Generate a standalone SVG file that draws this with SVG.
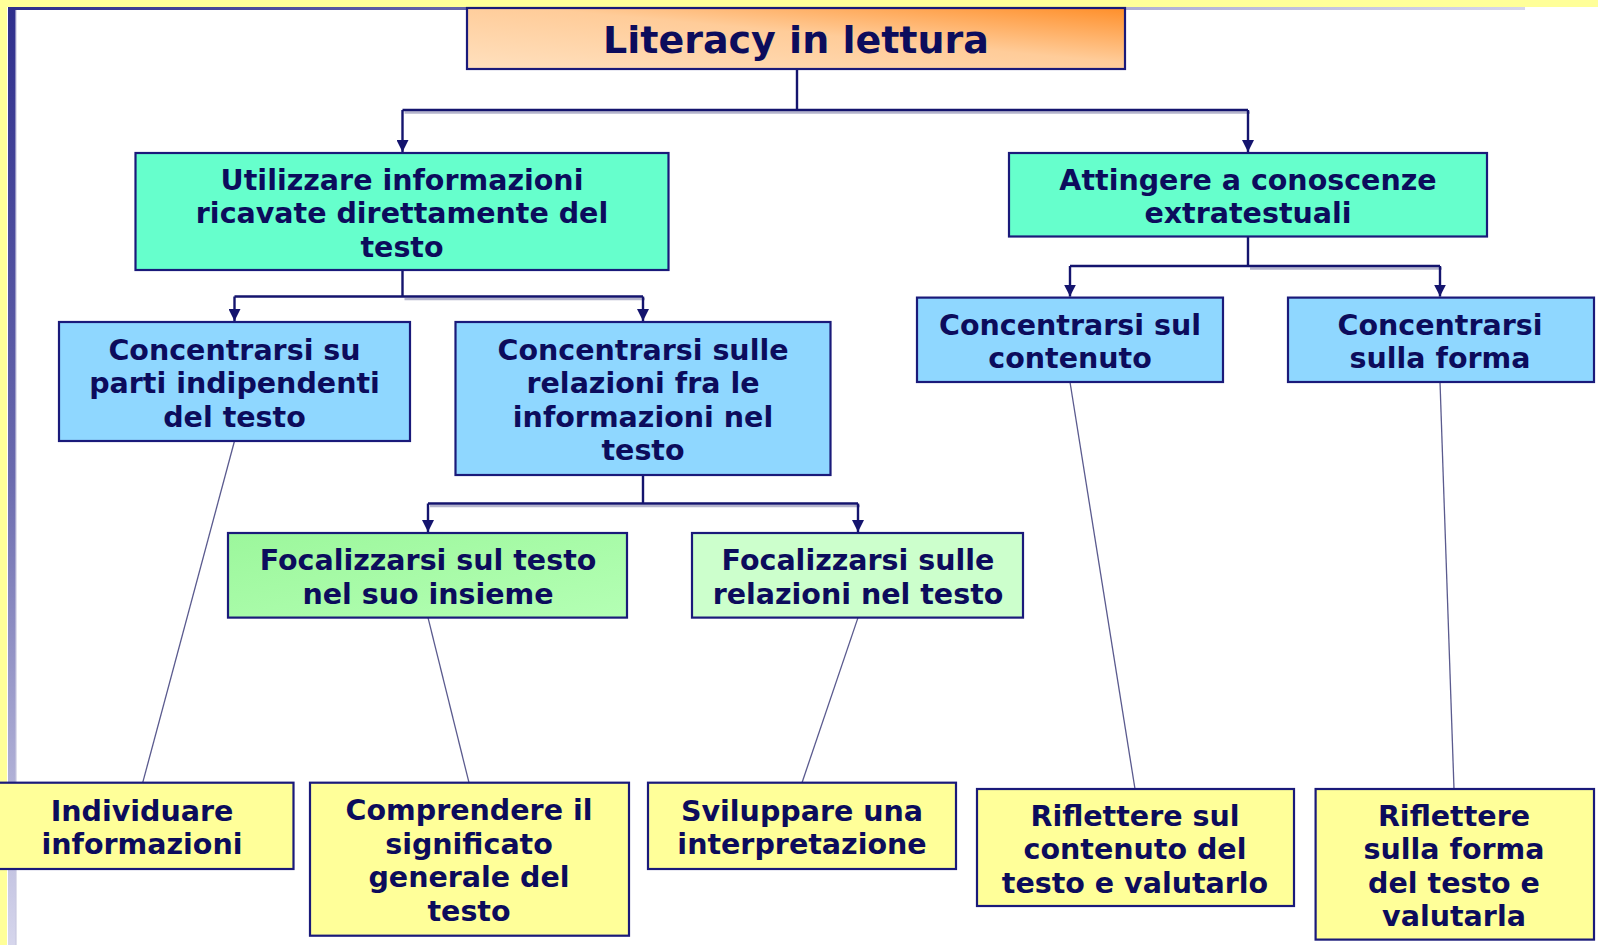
<svg xmlns="http://www.w3.org/2000/svg" width="1598" height="945" viewBox="0 0 1598 945">
<defs>
<linearGradient id="gTitle" x1="0" y1="1" x2="1" y2="0">
<stop offset="0" stop-color="#FFE0BE"/>
<stop offset="0.55" stop-color="#FFCC99"/>
<stop offset="1" stop-color="#FF8F2A"/>
</linearGradient>
<linearGradient id="gLeft" x1="0" y1="0" x2="0" y2="1">
<stop offset="0" stop-color="#2E2E8C"/>
<stop offset="0.5" stop-color="#6A6AAE"/>
<stop offset="1" stop-color="#D6D6EC"/>
</linearGradient>
<linearGradient id="gTop" x1="0" y1="0" x2="1" y2="0">
<stop offset="0" stop-color="#2E2E8C"/>
<stop offset="0.5" stop-color="#8A8AC0"/>
<stop offset="1" stop-color="#D6D6EC"/>
</linearGradient>
<linearGradient id="gGreen" x1="0" y1="0" x2="1" y2="1">
<stop offset="0" stop-color="#9CF79C"/>
<stop offset="1" stop-color="#B4FFB4"/>
</linearGradient>
<marker id="arr" markerWidth="12" markerHeight="12" refX="12" refY="6" orient="auto" markerUnits="userSpaceOnUse" viewBox="0 0 12 12">
<path d="M0,0 L12,6 L0,12 Z" fill="#14146E"/>
</marker>
<style>
.box{stroke:#1A1A7A;stroke-width:2.2}
.t{font-family:"DejaVu Sans","Liberation Sans",Verdana,sans-serif;font-weight:bold;font-size:28.5px;fill:#0C0C5C;text-anchor:middle}
.title{font-size:38px}
.c1{fill:#66FFCC}
.c2{fill:#8FD7FF}
.c3{fill:url(#gGreen)}
.c4{fill:#CCFFCC}
.c5{fill:#FFFF99}
.conn{fill:none;stroke:#14146E;stroke-width:2.4}
.shadow{fill:none;stroke:#B4B4CC;stroke-width:2.5}
.thin{fill:none;stroke:#5A5A8E;stroke-width:1.3}
</style>
</defs>
<rect x="0" y="0" width="1598" height="945" fill="#FFFFFF"/>
<rect x="0" y="0" width="1598" height="7" fill="#FFFF99"/>
<rect x="0" y="0" width="7" height="945" fill="#FFFF99"/>
<rect x="8" y="7" width="1517" height="3" fill="url(#gTop)"/>
<rect x="8" y="7" width="8" height="938" fill="url(#gLeft)"/>
<rect x="15" y="10" width="2" height="935" fill="#C8C8E0" opacity="0.6"/>

<g id="connectors">
<path class="shadow" d="M404.5,112.5 H1250 M404.5,299 H645 M1250,268.5 H1442 M430,506 H860"/>
<path class="conn" d="M797,69 V110 M402.5,110 H1248"/>
<path class="conn" d="M402.5,110 V152" marker-end="url(#arr)"/>
<path class="conn" d="M1248,110 V152" marker-end="url(#arr)"/>
<path class="conn" d="M402.5,270 V296.5 M234.5,296.5 H643"/>
<path class="conn" d="M234.5,296.5 V321" marker-end="url(#arr)"/>
<path class="conn" d="M643,296.5 V321" marker-end="url(#arr)"/>
<path class="conn" d="M1248,236.5 V266 M1070,266 H1440"/>
<path class="conn" d="M1070,266 V296.6" marker-end="url(#arr)"/>
<path class="conn" d="M1440,266 V296.6" marker-end="url(#arr)"/>
<path class="conn" d="M643,475 V503.5 M428,503.5 H858"/>
<path class="conn" d="M428,503.5 V532" marker-end="url(#arr)"/>
<path class="conn" d="M858,503.5 V532" marker-end="url(#arr)"/>
<line class="thin" x1="234.5" y1="441" x2="142.7" y2="782.7"/>
<line class="thin" x1="428" y1="617.6" x2="469" y2="782.7"/>
<line class="thin" x1="858" y1="617.6" x2="802" y2="782.7"/>
<line class="thin" x1="1070" y1="382" x2="1135" y2="789"/>
<line class="thin" x1="1440" y1="382" x2="1454" y2="789"/>
</g>

<g id="n-title">
<rect class="box" x="467" y="8" width="658" height="61" fill="url(#gTitle)"/>
<text class="t title" x="796" y="53">Literacy in lettura</text>
</g>
<g id="n-utilizzare">
<rect class="box c1" x="135.5" y="153" width="533" height="117"/>
<text class="t" x="402"><tspan x="402" y="189.5">Utilizzare informazioni</tspan><tspan x="402" y="223">ricavate direttamente del</tspan><tspan x="402" y="256.5">testo</tspan></text>
</g>
<g id="n-attingere">
<rect class="box c1" x="1009" y="153" width="478" height="83.5"/>
<text class="t"><tspan x="1248" y="189.5">Attingere a conoscenze</tspan><tspan x="1248" y="223">extratestuali</tspan></text>
</g>
<g id="n-parti">
<rect class="box c2" x="59" y="322" width="351" height="119"/>
<text class="t"><tspan x="234.5" y="359.5">Concentrarsi su</tspan><tspan x="234.5" y="393">parti indipendenti</tspan><tspan x="234.5" y="426.5">del testo</tspan></text>
</g>
<g id="n-relazioni">
<rect class="box c2" x="455.5" y="322" width="375" height="153"/>
<text class="t"><tspan x="643" y="359.75">Concentrarsi sulle</tspan><tspan x="643" y="393.25">relazioni fra le</tspan><tspan x="643" y="426.75">informazioni nel</tspan><tspan x="643" y="460.25">testo</tspan></text>
</g>
<g id="n-contenuto">
<rect class="box c2" x="917" y="297.6" width="306" height="84.4"/>
<text class="t"><tspan x="1070" y="334.5">Concentrarsi sul</tspan><tspan x="1070" y="368">contenuto</tspan></text>
</g>
<g id="n-forma">
<rect class="box c2" x="1288" y="297.6" width="306" height="84.4"/>
<text class="t"><tspan x="1440" y="334.5">Concentrarsi</tspan><tspan x="1440" y="368">sulla forma</tspan></text>
</g>
<g id="n-insieme">
<rect class="box c3" x="228" y="533" width="399" height="84.6"/>
<text class="t"><tspan x="428" y="570">Focalizzarsi sul testo</tspan><tspan x="428" y="603.5">nel suo insieme</tspan></text>
</g>
<g id="n-relnel">
<rect class="box c4" x="692" y="533" width="331" height="84.6"/>
<text class="t"><tspan x="858" y="570">Focalizzarsi sulle</tspan><tspan x="858" y="603.5">relazioni nel testo</tspan></text>
</g>
<g id="n-individuare">
<rect class="box c5" x="-2" y="782.7" width="295.5" height="86.3"/>
<text class="t"><tspan x="142" y="820.6">Individuare</tspan><tspan x="142" y="854.1">informazioni</tspan></text>
</g>
<g id="n-comprendere">
<rect class="box c5" x="310" y="782.7" width="319" height="153"/>
<text class="t"><tspan x="469" y="820.45">Comprendere il</tspan><tspan x="469" y="853.95">significato</tspan><tspan x="469" y="887.45">generale del</tspan><tspan x="469" y="920.95">testo</tspan></text>
</g>
<g id="n-sviluppare">
<rect class="box c5" x="648" y="782.7" width="308" height="86.3"/>
<text class="t"><tspan x="802" y="820.6">Sviluppare una</tspan><tspan x="802" y="854.1">interpretazione</tspan></text>
</g>
<g id="n-riflcont">
<rect class="box c5" x="977" y="789" width="317" height="117"/>
<text class="t"><tspan x="1135" y="825.5">Riflettere sul</tspan><tspan x="1135" y="859">contenuto del</tspan><tspan x="1135" y="892.5">testo e valutarlo</tspan></text>
</g>
<g id="n-riflforma">
<rect class="box c5" x="1315.6" y="789" width="278.4" height="150.6"/>
<text class="t"><tspan x="1454" y="825.55">Riflettere</tspan><tspan x="1454" y="859.05">sulla forma</tspan><tspan x="1454" y="892.55">del testo e</tspan><tspan x="1454" y="926.05">valutarla</tspan></text>
</g>
</svg>
